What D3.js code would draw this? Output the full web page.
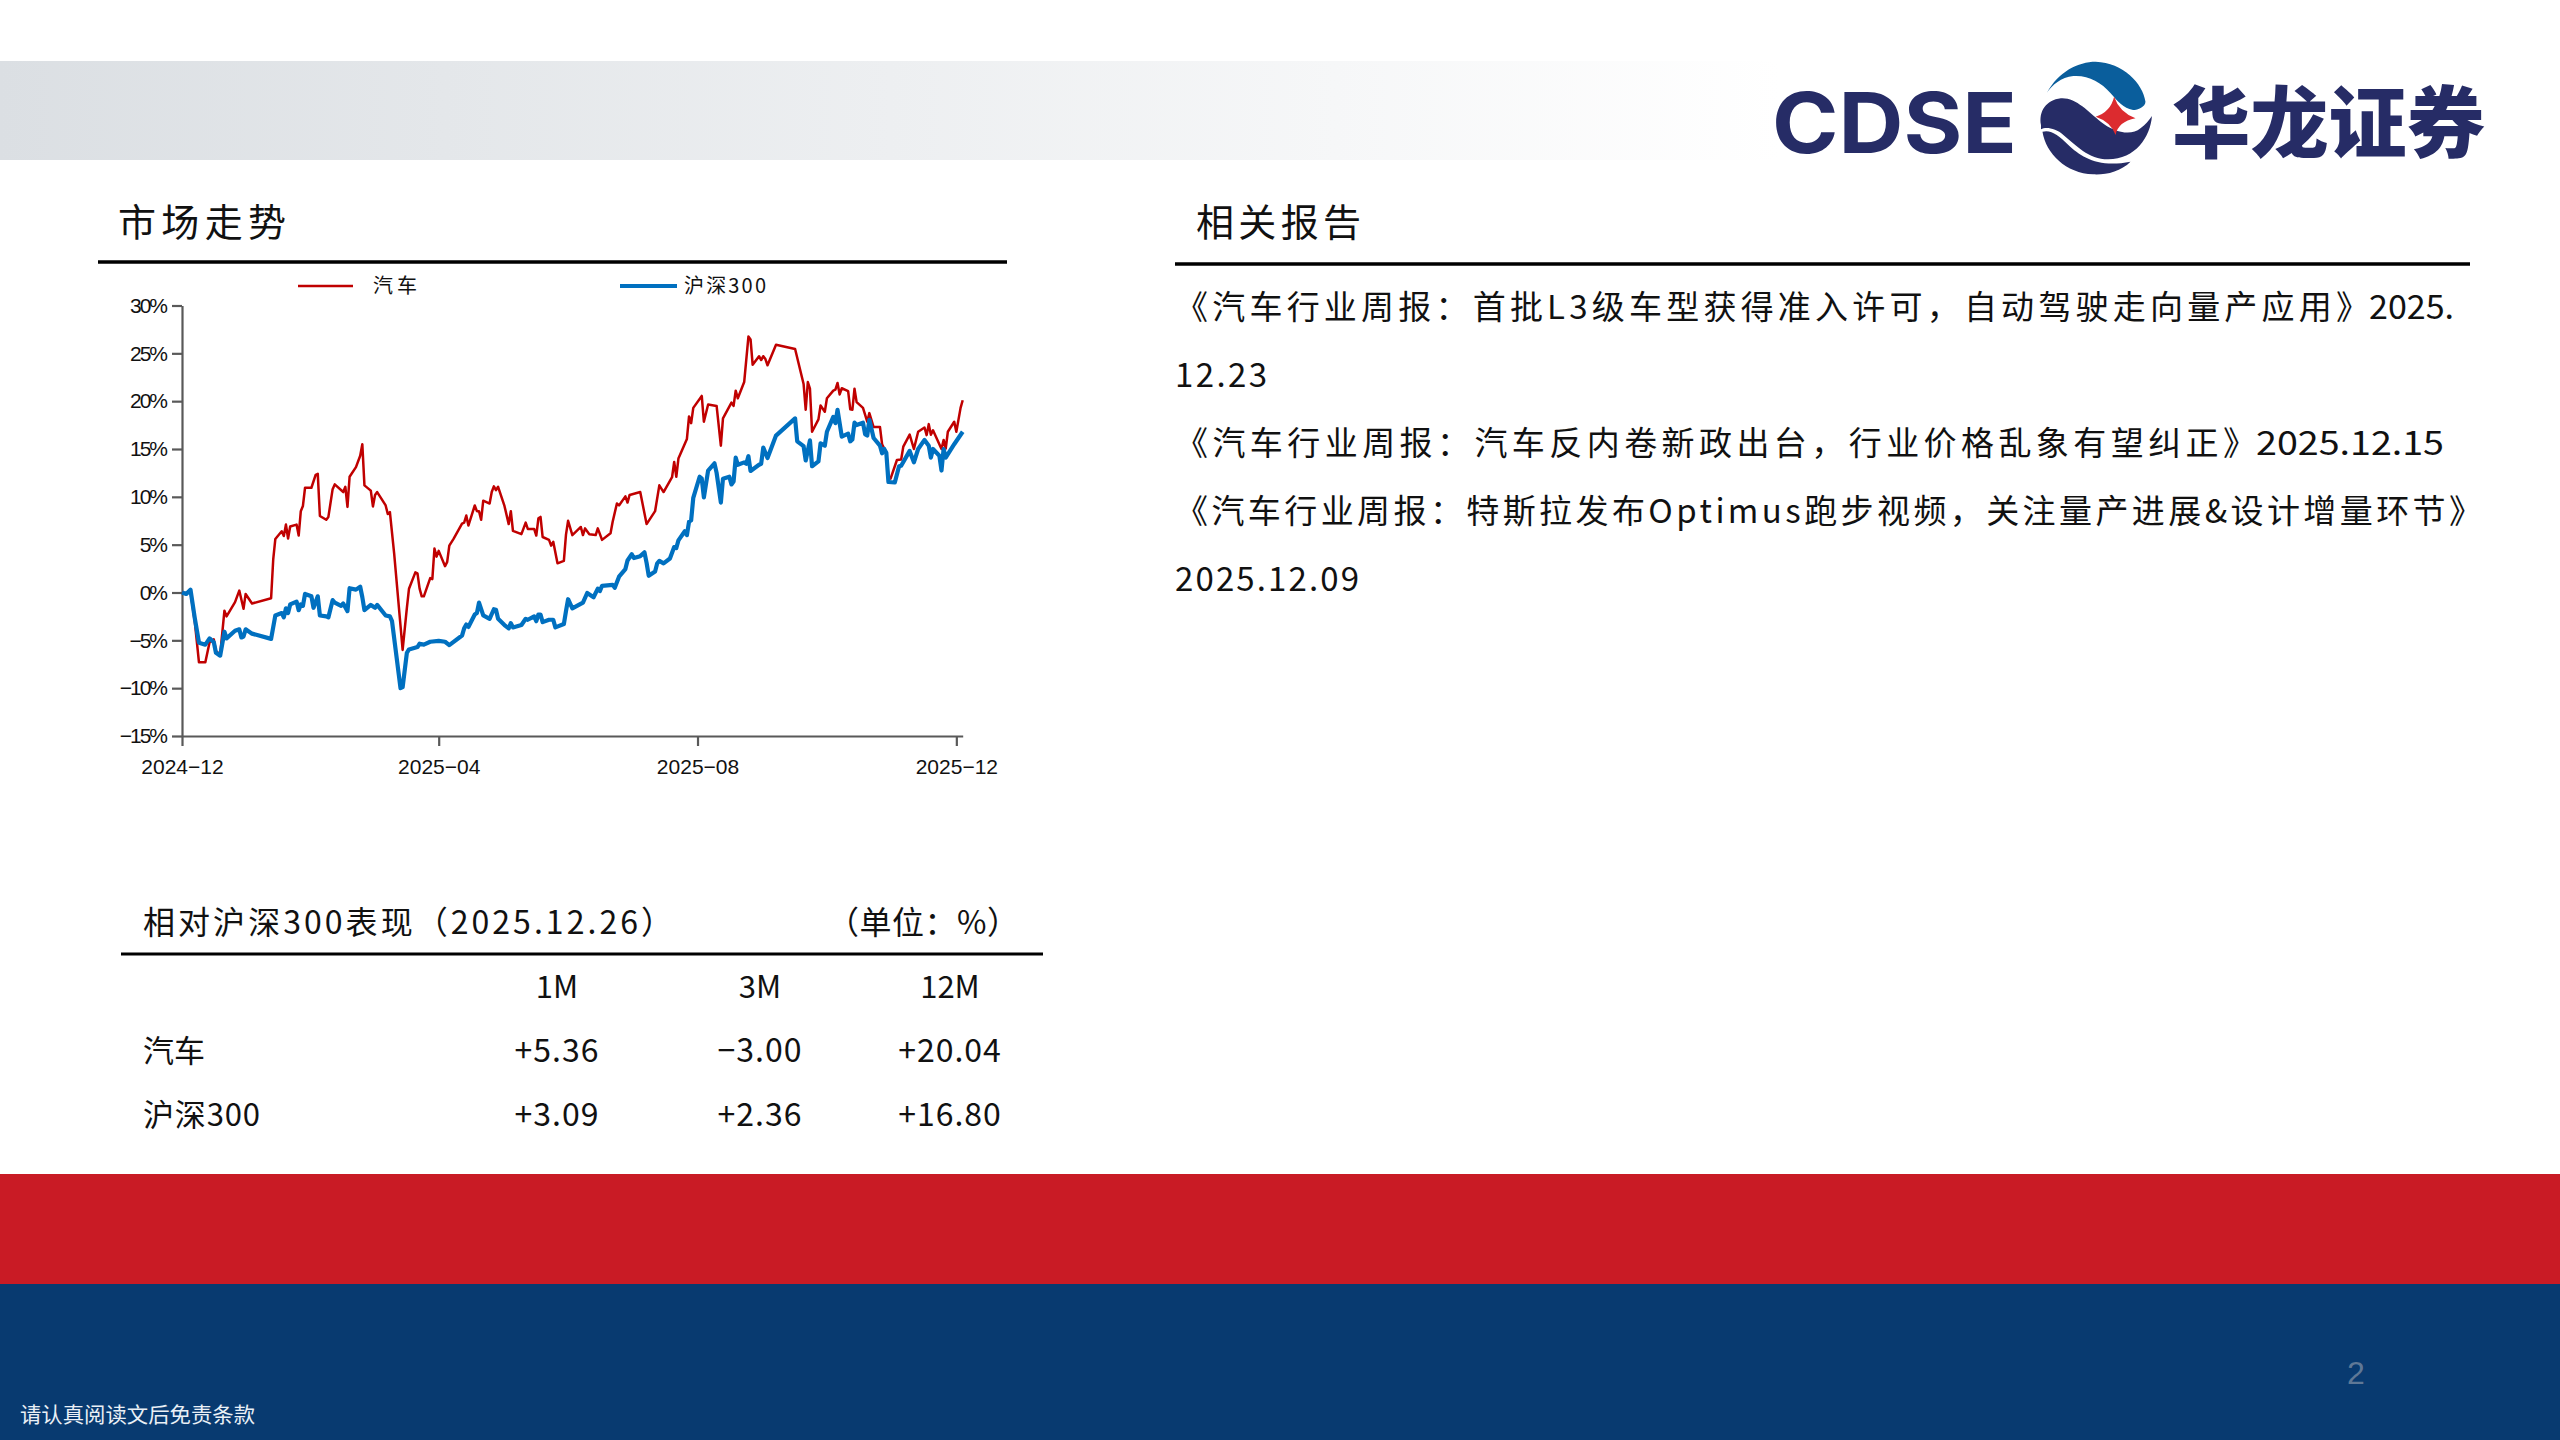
<!DOCTYPE html>
<html>
<head>
<meta charset="utf-8">
<script src="https://cdnjs.cloudflare.com/ajax/libs/d3/7.8.5/d3.min.js"></script>
<style>
  html, body { margin: 0; padding: 0; background: #fff; }
  svg { display: block; }
  .cn { font-family: "Noto Sans CJK SC", sans-serif; fill: #111; }
  .axis text { font-family: "Liberation Sans", Arial, sans-serif; font-size: 21px; fill: #111; }
  .axis path, .axis line { stroke: #595959; stroke-width: 2.2; }
  .axis.pct text { letter-spacing: -2px; }
</style>
</head>
<body>
<svg id="page" width="2560" height="1440" viewBox="0 0 2560 1440"></svg>
<script>
// ----- Chart data ------------------------------------------------------------
// day numbers count from the first date on the time axis
const firstDate = new Date(Date.UTC(2024, 11, 23));
const lastDay = 368;
const monthTicks = [0, 121, 243, 365];
const pctTicks = [-15, -10, -5, 0, 5, 10, 15, 20, 25, 30];

const autoDays = [0, 2, 4, 6, 8, 11, 13, 15, 16, 18, 20, 21, 25, 27, 29, 30, 33, 42, 43, 44, 47, 48, 49, 50, 51, 54, 55, 56, 57, 58, 61, 63, 64, 65, 68, 69, 71, 72, 76, 77, 78, 79, 82, 84, 85, 86, 89, 90, 91, 92, 96, 97, 98, 100, 104, 106, 107, 110, 111, 112, 113, 114, 117, 118, 119, 120, 121, 124, 125, 126, 128, 132, 133, 134, 135, 138, 139, 140, 141, 142, 145, 146, 147, 148, 149, 152, 154, 155, 156, 160, 162, 163, 166, 167, 168, 169, 170, 173, 174, 175, 177, 180, 181, 182, 184, 188, 189, 190, 192, 195, 196, 198, 202, 203, 205, 206, 209, 210, 211, 216, 219, 223, 225, 227, 231, 232, 233, 234, 238, 239, 240, 241, 245, 246, 248, 252, 254, 255, 259, 260, 261, 262, 265, 267, 268, 269, 272, 273, 274, 275, 276, 280, 289, 293, 294, 295, 296, 297, 300, 301, 303, 304, 307, 308, 309, 310, 311, 314, 315, 316, 317, 318, 321, 323, 324, 326, 329, 330, 332, 333, 334, 337, 339, 340, 343, 345, 347, 350, 351, 352, 353, 354, 358, 359, 360, 361, 364, 365, 367, 368];
const autoPct = [0, -0.07, 0.1, -3.0, -7.3, -7.3, -5.2, -4.9, -6.1, -6.5, -1.9, -2.5, -1.0, 0.2, -1.7, -0.15, -1.15, -0.6, 3.45, 5.6, 6.4, 5.9, 7.1, 5.65, 6.9, 7.1, 5.95, 8.5, 9.05, 10.95, 10.95, 12.3, 12.4, 8.0, 7.6, 7.9, 10.8, 11.3, 10.5, 11.05, 8.95, 12.1, 13.1, 14.3, 15.5, 11.2, 10.65, 9.0, 10.2, 10.5, 9.1, 8.2, 8.4, 4.1, -6.0, -1.6, 0.4, 2.1, 2.0, 0.4, -0.4, -0.4, 1.5, 1.4, 4.6, 3.75, 4.35, 2.75, 3.2, 4.9, 5.6, 7.2, 7.3, 8.05, 7.0, 9.1, 8.5, 8.5, 7.6, 9.6, 9.3, 10.5, 11.1, 10.7, 11.05, 9.05, 7.15, 8.5, 6.45, 6.1, 7.3, 6.65, 6.65, 5.95, 7.75, 7.9, 5.8, 5.5, 4.9, 5.3, 3.05, 3.3, 6.05, 7.5, 6.0, 6.85, 6.0, 6.7, 6.1, 6.0, 6.7, 5.5, 6.2, 7.4, 9.3, 9.1, 10.05, 9.4, 10.2, 10.5, 7.15, 8.5, 11.2, 10.5, 12.05, 13.65, 12.1, 14.0, 16.05, 18.4, 17.7, 19.3, 20.55, 17.85, 19.65, 19.5, 15.35, 18.2, 19.85, 19.5, 21.1, 20.3, 22.0, 26.75, 26.45, 23.8, 24.7, 24.3, 24.7, 24.4, 23.75, 25.9, 25.45, 21.8, 19.1, 22.0, 21.3, 16.8, 18.1, 19.55, 18.9, 20.3, 21.1, 21.2, 21.9, 20.7, 21.35, 21.05, 19.15, 19.1, 21.3, 19.9, 19.3, 17.85, 18.75, 17.3, 17.3, 15.5, 14.6, 12.1, 11.9, 13.85, 13.9, 15.25, 16.5, 15.0, 16.8, 17.25, 16.45, 17.6, 16.5, 16.95, 15.0, 15.95, 15.05, 16.8, 17.85, 16.8, 19.3, 20.1];

const csiDays = [0, 2, 4, 6, 8, 11, 13, 14, 15, 16, 18, 20, 21, 25, 27, 28, 29, 30, 33, 42, 44, 47, 48, 49, 50, 51, 54, 55, 56, 57, 58, 61, 62, 64, 65, 68, 69, 71, 72, 75, 76, 78, 79, 82, 84, 85, 86, 89, 91, 92, 96, 98, 99, 103, 104, 106, 107, 111, 112, 114, 117, 121, 124, 126, 132, 133, 134, 135, 138, 139, 140, 142, 145, 147, 148, 149, 152, 154, 155, 156, 160, 162, 163, 166, 167, 168, 169, 170, 173, 175, 176, 180, 181, 182, 184, 189, 191, 194, 196, 197, 198, 203, 204, 206, 209, 210, 212, 213, 216, 218, 219, 220, 223, 224, 225, 227, 230, 232, 233, 234, 237, 238, 239, 240, 241, 244, 245, 246, 248, 251, 252, 254, 255, 258, 259, 260, 261, 262, 265, 266, 267, 268, 272, 273, 274, 276, 280, 289, 290, 293, 294, 296, 297, 300, 301, 303, 304, 307, 308, 309, 311, 314, 315, 316, 317, 318, 321, 322, 323, 324, 326, 329, 330, 331, 332, 333, 336, 338, 339, 343, 345, 347, 350, 352, 353, 354, 357, 358, 359, 360, 364, 368];
const csiPct = [0, -0.15, 0.3, -2.65, -5.25, -5.45, -4.8, -5.0, -5.2, -6.3, -6.6, -4.1, -4.8, -4.0, -3.85, -4.7, -4.6, -3.85, -4.3, -4.85, -2.4, -2.15, -2.6, -1.65, -2.15, -1.25, -0.95, -1.85, -1.25, -1.4, -0.15, -0.4, -1.6, -0.4, -2.4, -2.5, -2.6, -0.8, -1.05, -1.4, -1.15, -1.95, 0.45, 0.3, 0.6, -0.5, -1.85, -1.3, -1.6, -1.3, -2.4, -2.5, -3.0, -10.0, -9.9, -6.3, -5.95, -5.7, -5.35, -5.45, -5.15, -5.05, -5.15, -5.5, -4.5, -3.75, -3.35, -3.6, -2.3, -2.15, -1.05, -2.4, -2.75, -1.75, -1.8, -2.75, -3.4, -3.75, -3.2, -3.65, -3.4, -2.75, -2.85, -2.5, -3.0, -2.3, -2.3, -3.1, -2.85, -2.85, -3.65, -3.3, -1.95, -0.7, -1.65, -1.05, -0.05, -0.5, 0.4, 0.15, 0.7, 0.8, 0.5, 1.65, 2.45, 3.35, 4.0, 3.6, 3.8, 4.2, 3.1, 1.75, 2.2, 3.05, 3.3, 3.05, 3.55, 4.75, 4.65, 5.45, 6.4, 6.0, 7.4, 7.55, 9.9, 12.1, 11.9, 9.95, 12.75, 13.5, 12.5, 9.4, 11.9, 12.1, 11.3, 11.6, 14.1, 13.35, 13.6, 13.45, 14.25, 12.7, 13.35, 13.45, 15.15, 14.05, 16.4, 18.2, 15.8, 15.3, 13.8, 15.9, 13.2, 13.7, 15.6, 15.35, 16.8, 18.35, 17.7, 19.1, 16.3, 16.6, 15.8, 16.0, 17.75, 17.5, 17.75, 16.55, 16.4, 18.05, 16.15, 15.35, 14.55, 15.0, 14.6, 11.55, 11.5, 13.2, 13.25, 14.8, 13.6, 15.0, 15.95, 15.35, 14.1, 15.0, 14.3, 12.75, 15.0, 14.1, 15.5, 16.8];

const seriesNames = ["汽车", "沪深300"];
const seriesColors = ["#C00000", "#0070C0"];

// ----- Table and report text --------------------------------------------------
const tableTitle = "相对沪深300表现（2025.12.26）";
const tableUnit = "（单位：%）";
const tableCols = ["1M", "3M", "12M"];
const tableAuto = [5.36, -3.0, 20.04];
const tableCsi = [3.09, 2.36, 16.8];

const reportLines = [
    "《汽车行业周报：首批L3级车型获得准入许可，自动驾驶走向量产应用》2025.",
    "12.23",
    "《汽车行业周报：汽车反内卷新政出台，行业价格乱象有望纠正》2025.12.15",
    "《汽车行业周报：特斯拉发布Optimus跑步视频，关注量产进展&设计增量环节》",
    "2025.12.09"
];

// ----- Page frame -------------------------------------------------------------
const svg = d3.select("#page");
const defs = svg.append("defs");
const grad = defs.append("linearGradient").attr("id", "band");
grad.append("stop").attr("offset", "0%").attr("stop-color", "#DBDFE3");
grad.append("stop").attr("offset", "100%").attr("stop-color", "#FFFFFF");

svg.append("rect").attr("x", 0).attr("y", 61).attr("width", 1780).attr("height", 99).attr("fill", "url(#band)");
svg.append("rect").attr("x", 0).attr("y", 1174).attr("width", 2560).attr("height", 110).attr("fill", "#C91B25");
svg.append("rect").attr("x", 0).attr("y", 1284).attr("width", 2560).attr("height", 156).attr("fill", "#083A70");

svg.append("text").attr("x", 20).attr("y", 1422).attr("class", "cn")
    .attr("textLength", 235).attr("lengthAdjust", "spacingAndGlyphs")
    .style("fill", "#EAF0F6").style("font-size", "21px").text("请认真阅读文后免责条款");
svg.append("text").attr("x", 2356).attr("y", 1384).attr("text-anchor", "middle")
    .style("font-family", "Liberation Sans").style("font-size", "32px").style("fill", "#5F7896").text("2");

// ----- Logo -------------------------------------------------------------------
const navy = "#262C66";
svg.append("text").attr("x", 1772).attr("y", 153).attr("textLength", 245).attr("lengthAdjust", "spacingAndGlyphs")
    .style("font-family", "Inter").style("font-weight", 700).style("font-size", "84px").style("fill", navy).text("CDSE");
svg.append("text").attr("x", 2172).attr("y", 152).attr("textLength", 313).attr("lengthAdjust", "spacingAndGlyphs")
    .style("font-family", "Noto Sans CJK SC").style("font-weight", 900).style("font-size", "78px").style("fill", navy).text("华龙证券");

const emblem = svg.append("g").attr("transform", "translate(1740,40) scale(0.4975,0.3333)");
emblem.append("path").attr("fill", "#0A5E9C")
    .attr("d", "M617,158 C640,95 680,65 715,65 C770,68 810,130 815,185 C815,200 800,210 790,210 C770,205 760,185 745,160 C725,125 700,105 670,108 C645,112 628,135 617,158 Z");
emblem.append("path").attr("fill", navy)
    .attr("d", "M605,255 C600,215 615,180 645,175 C675,172 700,215 725,245 C750,275 785,290 805,265 C815,255 822,240 828,228 C825,290 795,358 740,358 C700,358 675,315 650,285 C635,265 615,260 605,268 Z");
emblem.append("path").attr("fill", navy)
    .attr("d", "M608,275 C625,268 640,285 660,315 C685,350 720,385 785,365 C765,395 735,405 710,403 C655,400 615,340 608,275 Z");
emblem.append("path").attr("fill", "#DC2B2F")
    .attr("d", "M752,170 Q762,215 795,235 Q760,245 755,285 Q745,245 715,230 Q745,215 752,170 Z");

// ----- Section heads ----------------------------------------------------------
function rule(x1, x2, y, w) {
    svg.append("line").attr("x1", x1).attr("x2", x2).attr("y1", y).attr("y2", y)
        .attr("stroke", "#000").attr("stroke-width", w);
}
function fitText(str, x, y, size, width, adjust) {
    return svg.append("text").attr("class", "cn").attr("x", x).attr("y", y)
        .attr("textLength", width).attr("lengthAdjust", adjust || "spacing")
        .style("font-size", size + "px").text(str);
}
fitText("市场走势", 118, 236, 38, 168);
rule(98, 1007, 262, 3.5);
fitText("相关报告", 1196, 236, 38, 165);
rule(1175, 2470, 264, 3.5);

// report list: title part and trailing date are fitted apart, the date digits run narrow
const reportFit = [[1194, 2369, 85], [92], [1081, 2256, 188], [1307], [184]];
reportLines.forEach((s, i) => {
    const by = 319 + i * 68;
    const fit = reportFit[i];
    if (fit.length === 1) {
        fitText(s, 1175, by, 33, fit[0]);
    } else {
        const cut = s.indexOf("》") + 1;
        fitText(s.slice(0, cut), 1175, by, 33, fit[0]);
        fitText(s.slice(cut), fit[1], by, 33, fit[2], "spacingAndGlyphs");
    }
});

// ----- Line chart -------------------------------------------------------------
const dayDate = (d) => d3.utcDay.offset(firstDate, d);
const x = d3.scaleUtc().domain([firstDate, dayDate(lastDay)]).range([182, 962.7]);
const y = d3.scaleLinear().domain([-15, 30]).range([736, 305.5]);

const gx = svg.append("g").attr("class", "axis").attr("transform", "translate(0,736)")
    .call(d3.axisBottom(x).tickValues(monthTicks.map(dayDate)).tickFormat(d3.utcFormat("%Y\u2212%m")).tickSize(10).tickSizeOuter(0).tickPadding(13));
const gy = svg.append("g").attr("class", "axis pct").attr("transform", "translate(182,0)")
    .call(d3.axisLeft(y).tickValues(pctTicks).tickFormat((v) => d3.format("d")(v) + "%").tickSize(10).tickSizeOuter(0).tickPadding(6));
gx.select(".domain").attr("stroke", "#595959");
gy.select(".domain").attr("stroke", "#595959");

const line = d3.line().x((p) => x(dayDate(p[0]))).y((p) => y(p[1])).curve(d3.curveLinear);
const lineWidths = [2.5, 4.2];
[d3.zip(autoDays, autoPct), d3.zip(csiDays, csiPct)].forEach((pts, i) => {
    svg.append("path").datum(pts).attr("d", line).attr("fill", "none")
        .attr("stroke", seriesColors[i]).attr("stroke-width", lineWidths[i]).attr("stroke-linejoin", "round");
});

// legend
const legendX = [[298, 353, 373, 44], [620, 677, 684, 82]];
seriesNames.forEach((name, i) => {
    const [a, b, t, w] = legendX[i];
    svg.append("line").attr("x1", a).attr("x2", b).attr("y1", 286).attr("y2", 286)
        .attr("stroke", seriesColors[i]).attr("stroke-width", lineWidths[i]);
    fitText(name, t, 293, 20, w);
});

// ----- Performance table ------------------------------------------------------
fitText(tableTitle, 143, 934, 32, 530);
fitText(tableUnit, 827, 934, 32, 192);
rule(121, 1043, 954, 3);

const colX = d3.scaleOrdinal().domain(tableCols).range([557, 760, 950]);
svg.selectAll("text.colhead").data(tableCols).join("text").attr("class", "cn colhead")
    .attr("x", (c) => colX(c)).attr("y", 998).attr("text-anchor", "middle")
    .style("font-size", "31px").text((c) => c);

const signed = d3.format("+.2f");
[[seriesNames[0], tableAuto, 1062, 62], [seriesNames[1], tableCsi, 1126, 117]].forEach(([name, vals, by, w]) => {
    fitText(name, 143, by, 31, w);
    vals.forEach((v, i) => {
        svg.append("text").attr("class", "cn").attr("x", colX(tableCols[i])).attr("y", by)
            .attr("text-anchor", "middle").style("font-size", "32px").style("letter-spacing", "1px").text(signed(v));
    });
});
</script>
</body>
</html>
